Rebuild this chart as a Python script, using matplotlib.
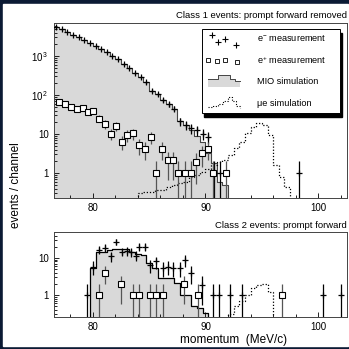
import numpy as np
import matplotlib.pyplot as plt
from matplotlib.patches import Rectangle

plt.rcParams['font.family'] = ['Liberation Sans', 'DejaVu Sans']
plt.rcParams['mathtext.fontset'] = 'custom'
plt.rcParams['mathtext.rm'] = 'Liberation Sans'
plt.rcParams['mathtext.it'] = 'Liberation Sans:italic'

# ---- class 1 (top panel) ----
c1_mio_edges = np.arange(76.5, 92.01, 0.5)
c1_mio = [5600, 4850, 4200, 3550, 3050, 2580, 2150, 1830, 1550, 1270,
          1030, 820, 630, 480, 375, 295, 210, 128, 105, 74,
          58, 45, 21, 17, 13, 9, 6.3, 3.2, 1.8, 0.6, 0.5]

c1_em_x = [76.75, 77.25, 77.75, 78.25, 78.75, 79.25, 79.75, 80.25, 80.75, 81.25,
           81.75, 82.25, 82.75, 83.25, 83.75, 84.25, 84.75, 85.25, 85.75, 86.25,
           86.75, 87.25, 87.75, 88.25, 88.75, 89.25, 89.75, 90.25, 90.75, 91.25, 98.25]
c1_em = [5600, 4850, 4200, 3550, 3050, 2580, 2150, 1830, 1550, 1270,
         1030, 820, 630, 480, 375, 295, 210, 128, 105, 74,
         58, 45, 21, 17, 14, 12.6, 10, 8.5, 1, 1, 1]

c1_ep_x = [77.0, 77.5, 78.05, 78.6, 79.1, 79.6, 80.06, 80.56, 81.06, 81.6,
           82.1, 82.57, 83.07, 83.6, 84.1, 84.6, 85.13, 85.6, 86.17, 86.66,
           87.14, 87.6, 88.2, 88.7, 89.2, 89.7, 90.2, 90.7, 91.8]
c1_ep = [68, 59, 50, 44, 46, 37, 39, 25, 18, 10,
         16, 6.3, 9.4, 10.4, 5.2, 4.2, 8.5, 1.0, 4.2, 2.1,
         2.1, 1, 1, 1, 1.9, 3.2, 4.2, 1, 1]

c1_mue_edges = np.arange(84.0, 97.51, 0.5)
c1_mue = [0.3, 0.33, 0.33, 0.36, 0.36, 0.45, 0.5, 0.55, 0.6, 0.8,
          0.9, 1.07, 1.3, 1.6, 1.9, 2.15, 2.9, 4.3, 6.3, 10.4,
          15.5, 19.5, 17, 9.4, 1.6, 0.8, 0.45]

# ---- class 2 (bottom panel) ----
c2_mio_edges = np.arange(79.75, 90.26, 0.5)
c2_mio = [5.5, 14, 14, 16, 17, 17, 17, 14, 13, 12,
          7.5, 5.5, 2.8, 2.8, 2.8, 2.1, 1.0, 1.0, 0.5, 0.45, 0.33]

c2_em_x = [79.5, 80.0, 80.56, 81.06, 81.6, 82.1, 82.6, 83.0, 83.4, 83.8,
           84.1, 84.6, 85.07, 85.6, 86.2, 86.7, 87.1, 87.7, 88.2, 88.7,
           89.7, 90.7, 91.2, 92.2, 93.25, 100.4, 102.0]
c2_em = [1, 5.8, 16.5, 19, 11, 27.6, 14.8, 15.5, 14.2, 11.5,
         20, 20, 6.5, 8, 5.3, 5.8, 5.3, 5.3, 8.8, 3.9,
         1.9, 1, 1, 1, 1, 1, 1]

c2_ep_x = [80.56, 81.06, 82.5, 83.6, 84.1, 85.1, 85.6, 86.2, 88.1, 89.3, 96.8]
c2_ep = [1, 3.9, 1.95, 1, 1, 1, 1, 1, 1.95, 1, 1]

c2_mue_edges = np.arange(92.0, 96.01, 0.5)
c2_mue = [0.3, 0.5, 0.7, 1.0, 1.5, 1.9, 2.0, 1.2]


def step_hist(ax, edges, vals, **kw):
    xs = np.repeat(edges, 2)[1:-1]
    ys = np.repeat(vals, 2)
    return ax.plot(np.r_[edges[0], xs, edges[-1]], np.r_[1e-3, ys, 1e-3], **kw)


def fill_hist(ax, edges, vals, color):
    ax.fill_between(edges, np.r_[vals, vals[-1]], 1e-3, step='post',
                    color=color, lw=0)


def data_points(ax, x, y, marker, ms):
    x = np.asarray(x)
    y = np.asarray(y, float)
    err = np.sqrt(y)
    lo = np.minimum(err, y)
    if marker == 's':
        ax.errorbar(x, y, yerr=[lo, err], fmt='none', ecolor='#555555',
                    elinewidth=0.9, zorder=4)
        ax.plot(x, y, 's', ms=ms, mfc='white', mec='black', mew=0.8, zorder=5)
    else:
        ax.errorbar(x, y, yerr=[lo, err], fmt='none', ecolor='black',
                    elinewidth=0.9, zorder=4)
        ax.plot(x, y, '+', ms=ms, color='black', mew=0.9, zorder=5)


def style_axes(ax):
    ax.set_yscale('log')
    ax.set_xlim(76.52, 102.55)
    ax.set_xticks([80, 90, 100])
    ax.set_xticks(np.arange(78, 103, 2), minor=True)
    ax.tick_params(which='both', direction='in', labelsize=7, width=0.6)
    ax.tick_params(which='major', length=3.5)
    ax.tick_params(which='minor', length=2)
    for s in ax.spines.values():
        s.set_linewidth(0.7)
        s.set_color('#444444')


fig = plt.figure(figsize=(3.49, 3.49), dpi=100)
fig.patch.set_facecolor('#0b1a34')
fig.add_artist(Rectangle((3 / 349, 3 / 349), 345 / 349, 342 / 349,
                         transform=fig.transFigure, color='white', zorder=0))

W = 349.0
ax1 = fig.add_axes([53.5 / W, (W - 198) / W, 293.5 / W, 175 / W])
ax2 = fig.add_axes([53.5 / W, (W - 317) / W, 293.5 / W, 85 / W])

# top panel
fill_hist(ax1, c1_mio_edges, c1_mio, '#d9d9d9')
step_hist(ax1, c1_mio_edges, c1_mio, color='#444444', lw=0.8, zorder=2)
step_hist(ax1, c1_mue_edges, c1_mue, color='black', lw=0.9, ls=(0, (1, 1.5)), zorder=3)
data_points(ax1, c1_em_x, c1_em, '+', 4)
data_points(ax1, c1_ep_x, c1_ep, 's', 4.2)
style_axes(ax1)
ax1.set_ylim(0.229, 7020)
ax1.set_yticks([1, 10, 100, 1000])
ax1.set_yticklabels(['1', '10', r'$10^{\,2}$', r'$10^{\,3}$'])
ax1.set_xticklabels(['80', '90', '100'])

# bottom panel
fill_hist(ax2, c2_mio_edges, c2_mio, '#d9d9d9')
step_hist(ax2, c2_mio_edges, c2_mio, color='black', lw=0.9, zorder=2)
step_hist(ax2, c2_mue_edges, c2_mue, color='black', lw=0.9, ls=(0, (1, 1.5)), zorder=3)
data_points(ax2, c2_em_x, c2_em, '+', 5)
data_points(ax2, c2_ep_x, c2_ep, 's', 4.2)
style_axes(ax2)
ax2.set_ylim(0.254, 50)
ax2.set_yticks([1, 10])
ax2.set_yticklabels(['1', '10'])

# titles and labels
fig.text(347 / W, (W - 15) / W, 'Class 1 events: prompt forward removed',
         ha='right', va='center', fontsize=6.8)
fig.text(347 / W, (W - 225) / W, 'Class 2 events: prompt forward',
         ha='right', va='center', fontsize=6.8)
fig.text(16 / W, (W - 185) / W, 'events / channel', rotation=90,
         ha='center', va='center', fontsize=8.5)
fig.text(234 / W, (W - 340) / W, 'momentum  (MeV/c)',
         ha='center', va='center', fontsize=8.5)

# legend box drawn by hand
def ap(px, py):
    return ((px - 53.5) / 293.5, (198 - py) / 175.0)

x0, y0 = ap(201.7, 113.3)
x1, y1 = ap(340, 29.3)
ax1.add_patch(Rectangle((x0 + 0.007, y0 - 0.023), x1 - x0, y1 - y0,
                        transform=ax1.transAxes, color='black', zorder=6))
ax1.add_patch(Rectangle((x0, y0), x1 - x0, y1 - y0, transform=ax1.transAxes,
                        facecolor='white', edgecolor='black', lw=0.7, zorder=7))

labels = [r'e$^{-}$ measurement', r'e$^{+}$ measurement', 'MIO simulation',
          'μe simulation']
for lab, py in zip(labels, [38, 60, 81, 103]):
    tx, ty = ap(257, py)
    ax1.text(tx, ty, lab, transform=ax1.transAxes, fontsize=6.6,
             va='center', ha='left', zorder=8)

# legend samples
cx = [ap(p, q) for p, q in [(211.7, 35), (218.3, 41.7), (225, 38.5), (236, 44.5)]]
ax1.plot([c[0] for c in cx], [c[1] for c in cx], '+', ms=4, color='black',
         mew=0.8, transform=ax1.transAxes, zorder=8)
sq = [ap(p, q) for p, q in [(208, 59.5), (216.5, 61), (225, 60), (236.5, 62)]]
ax1.plot([c[0] for c in sq], [c[1] for c in sq], 's', ms=3, mfc='white',
         mec='black', mew=0.6, transform=ax1.transAxes, zorder=8)

hx = [ap(p, 0)[0] for p in [208, 218, 229.5, 235, 240]]
hy = [ap(0, q)[1] for q in [79, 75, 78.5, 80.5]]
hb = ap(0, 86.5)[1]
ax1.fill_between(hx, hy + [hy[-1]], hb, step='post', color='#d9d9d9', lw=0,
                 transform=ax1.transAxes, zorder=8)
ax1.step(hx, hy + [hy[-1]], where='post', color='#444444', lw=0.7,
         transform=ax1.transAxes, zorder=8)

mx = [ap(p, 0)[0] for p in [208, 213, 218, 223, 228, 232, 236, 240]]
my = [ap(0, q)[1] for q in [107, 106, 104, 101, 97, 101, 106, 108]]
ax1.step(mx, my, where='post', color='black', lw=0.8, ls=(0, (1, 1.5)),
         transform=ax1.transAxes, zorder=8)

fig.savefig('out.png', dpi=100, facecolor=fig.get_facecolor())
